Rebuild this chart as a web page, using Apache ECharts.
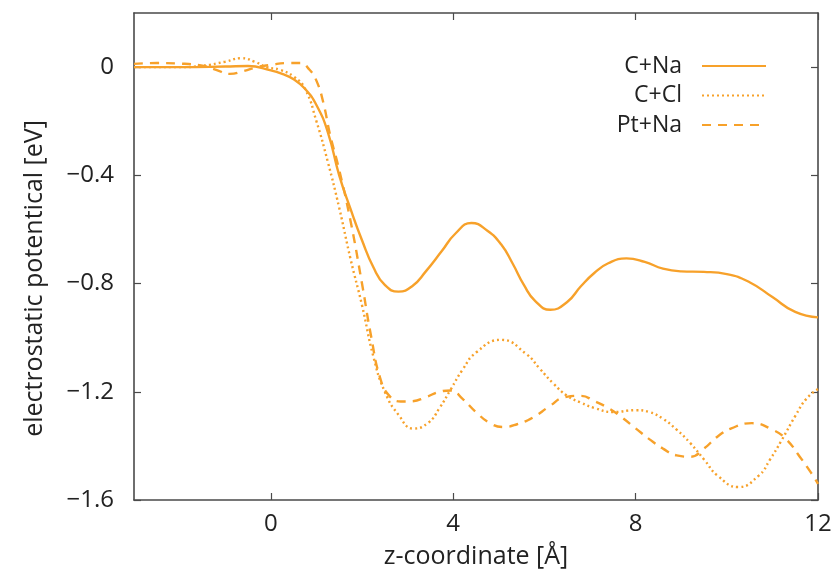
<!DOCTYPE html>
<html>
<head>
<meta charset="utf-8">
<script src="https://cdn.jsdelivr.net/npm/echarts@6/dist/echarts.min.js"></script>
<style>html,body{margin:0;padding:0;background:#fff;}#c{width:837px;height:576px;}</style>
</head>
<body>
<div id="c"></div>
<script>
const seriesNames = ['C+Na', 'C+Cl', 'Pt+Na'];
const xTicks = [0, 4, 8, 12];
const yTicks = [-1.6, -1.2, -0.8, -0.4, 0];

const cNa = [
  [-3, 0.0], [-2, 0.0], [-1, 0.002], [-0.5, 0.004], [0, -0.012], [0.25, -0.025], [0.5, -0.045],
  [0.75, -0.08], [1.0, -0.14], [1.25, -0.24], [1.5, -0.40], [1.75, -0.525], [2.0, -0.64],
  [2.25, -0.74], [2.5, -0.805], [2.8, -0.83], [3.1, -0.81], [3.4, -0.755],
  [3.75, -0.68], [4.05, -0.615], [4.4, -0.576], [4.75, -0.605], [5.05, -0.655],
  [5.3, -0.725], [5.55, -0.805], [5.8, -0.865], [6.13, -0.897], [6.5, -0.868],
  [6.8, -0.81], [7.1, -0.76], [7.4, -0.725], [7.8, -0.707], [8.2, -0.72],
  [8.6, -0.745], [9.0, -0.755], [9.5, -0.757], [10.0, -0.765], [10.5, -0.795], [11.0, -0.85],
  [11.5, -0.905], [12, -0.925]
];
const cCl = [
  [-3, 0.0], [-2, 0.0], [-1.5, 0.005], [-1.0, 0.02], [-0.65, 0.033], [-0.35, 0.02], [-0.1, 0.0],
  [0.2, -0.01], [0.5, -0.035], [0.75, -0.08], [1.0, -0.20], [1.25, -0.35], [1.5, -0.52],
  [1.75, -0.71], [2.0, -0.88], [2.25, -1.07], [2.5, -1.20], [2.8, -1.285],
  [3.13, -1.336], [3.45, -1.315], [3.7, -1.26], [3.95, -1.19], [4.2, -1.12], [4.5, -1.055],
  [5.05, -1.008], [5.6, -1.06], [5.9, -1.115], [6.2, -1.17],
  [6.5, -1.215], [6.8, -1.24], [7.1, -1.26], [7.5, -1.275], [8.0, -1.268], [8.3, -1.275],
  [8.6, -1.30], [8.9, -1.34], [9.2, -1.39], [9.5, -1.45], [9.8, -1.51],
  [10.25, -1.552], [10.7, -1.51], [10.95, -1.45], [11.2, -1.38], [11.5, -1.29], [11.75, -1.225],
  [12, -1.19]
];
const ptNa = [
  [-3, 0.012], [-2.5, 0.015], [-2.0, 0.013], [-1.5, 0.005], [-1.2, -0.01], [-0.9, -0.025],
  [-0.6, -0.015], [-0.3, 0.0], [0, 0.008], [0.35, 0.015], [0.65, 0.015], [0.85, -0.01],
  [1.0, -0.05], [1.15, -0.13], [1.3, -0.25], [1.5, -0.38], [1.75, -0.57], [2.0, -0.80],
  [2.2, -0.995], [2.4, -1.15], [2.6, -1.215], [2.85, -1.236], [3.1, -1.235], [3.4, -1.22],
  [3.7, -1.20], [3.95, -1.195], [4.2, -1.225], [4.5, -1.275], [4.8, -1.315], [5.1, -1.33],
  [5.4, -1.32], [5.75, -1.295], [6.1, -1.255], [6.45, -1.22], [6.8, -1.215], [7.1, -1.235],
  [7.4, -1.26], [7.7, -1.295], [8.0, -1.335], [8.3, -1.375], [8.6, -1.41], [8.9, -1.435],
  [9.2, -1.44], [9.5, -1.41], [9.8, -1.365], [10.1, -1.335], [10.55, -1.316],
  [11.0, -1.34], [11.3, -1.375], [11.6, -1.44], [11.85, -1.50], [12, -1.54]
];

const color = '#f7a12a';
const axisColor = '#4a4a4a';
const fontFam = '"Open Sans", "Liberation Sans", sans-serif';
const fmt = v => (v < 0 ? '\u2212' + Math.abs(v) : String(v));

const chart = echarts.init(document.getElementById('c'), null, {renderer: 'canvas'});
const mkLine = (name, data, type) => ({
  name: name, type: 'line', data: data, smooth: 0.5, symbol: 'none',
  xAxisIndex: 0, yAxisIndex: 0,
  lineStyle: {color: color, width: 2.4, type: type}, itemStyle: {color: color}
});
const axisLineStyle = {show: true, onZero: false, lineStyle: {color: axisColor, width: 1.6}};
chart.setOption({
  animation: false,
  backgroundColor: '#fff',
  grid: {left: 134, right: 19, top: 13, bottom: 76, containLabel: false},
  legend: {
    data: seriesNames, orient: 'vertical', align: 'right', right: 65, top: 49,
    itemWidth: 64, itemHeight: 14, itemGap: 5.5,
    itemStyle: {opacity: 0},
    textStyle: {fontFamily: fontFam, fontSize: 23, color: '#222', lineHeight: 24, padding: [0, 15, 0, 0]}
  },
  xAxis: [{
    type: 'value', min: -3, max: 12, position: 'bottom',
    name: 'z-coordinate [\u00c5]', nameLocation: 'middle', nameGap: 44,
    nameTextStyle: {fontFamily: fontFam, fontSize: 25, color: '#222'},
    axisLine: axisLineStyle,
    axisTick: {show: true, inside: true, length: 7, customValues: xTicks, lineStyle: {color: axisColor, width: 1.2}},
    axisLabel: {customValues: xTicks, formatter: fmt, fontFamily: fontFam, fontSize: 24, color: '#222', margin: 12},
    splitLine: {show: false}
  }, {
    type: 'value', min: -3, max: 12, position: 'top',
    axisLine: axisLineStyle,
    axisTick: {show: true, inside: true, length: 7, customValues: xTicks, lineStyle: {color: axisColor, width: 1.2}},
    axisLabel: {show: false}, splitLine: {show: false}
  }],
  yAxis: [{
    type: 'value', min: -1.6, max: 0.2, position: 'left',
    name: 'electrostatic potentical [eV]', nameLocation: 'middle', nameGap: 87, nameRotate: 90,
    nameTextStyle: {fontFamily: fontFam, fontSize: 25, color: '#222', padding: [0, 44, 0, 0]},
    axisLine: axisLineStyle,
    axisTick: {show: true, inside: true, length: 7, customValues: yTicks, lineStyle: {color: axisColor, width: 1.2}},
    axisLabel: {customValues: yTicks, formatter: fmt, fontFamily: fontFam, fontSize: 24, color: '#222', margin: 20},
    splitLine: {show: false}
  }, {
    type: 'value', min: -1.6, max: 0.2, position: 'right',
    axisLine: axisLineStyle,
    axisTick: {show: true, inside: true, length: 7, customValues: yTicks, lineStyle: {color: axisColor, width: 1.2}},
    axisLabel: {show: false}, splitLine: {show: false}
  }],
  series: [
    mkLine(seriesNames[0], cNa, 'solid'),
    mkLine(seriesNames[1], cCl, [2, 3]),
    mkLine(seriesNames[2], ptNa, [9, 7])
  ]
});
</script>
</body>
</html>
